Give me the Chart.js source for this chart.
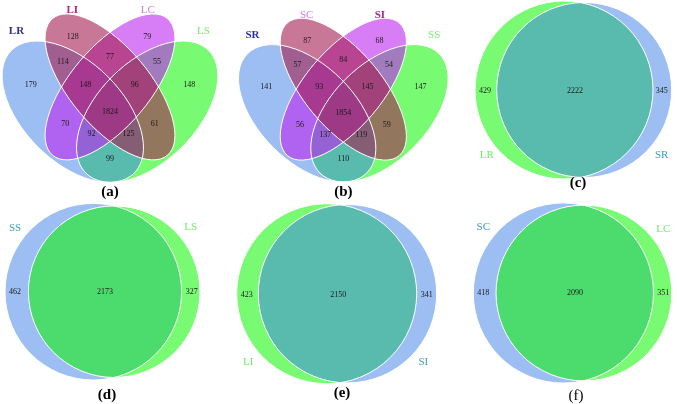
<!DOCTYPE html>
<html>
<head>
<meta charset="utf-8">
<script src="https://cdn.jsdelivr.net/npm/chart.js@4.4.1/dist/chart.umd.min.js"></script>
<style>
  html, body { margin: 0; padding: 0; background: #fff; }
  #wrap { width: 677px; height: 404px; }
</style>
</head>
<body>
<div id="wrap"><canvas id="vennChart" width="677" height="404"></canvas></div>
<script>
// ---- data ----
const quadSetsA = ['LR', 'LI', 'LC', 'LS'];
const quadSetsB = ['SR', 'SC', 'SI', 'SS'];
// 15 region counts, in VennDiagram label order
const quadCountsA = [128, 77, 79, 114, 148, 1824, 96, 55, 179, 70, 92, 125, 61, 148, 99];
const quadCountsB = [87, 84, 68, 57, 93, 1854, 145, 54, 141, 56, 137, 119, 59, 147, 110];
const pairSets = [['LR', 'SR'], ['SS', 'LS'], ['LI', 'SI'], ['SC', 'LC']];
const pairCounts = [[429, 2222, 345], [462, 2173, 327], [423, 2150, 341], [418, 2090, 351]];
const panelTags = ['(a)', '(b)', '(c)', '(d)', '(e)', '(f)'];

// ---- layout ----
// 4-set diagram in unit coords (y up)
const quadRegionPos = [[0.35, 0.77], [0.5, 0.69], [0.65, 0.77], [0.31, 0.67], [0.4, 0.58], [0.5, 0.47],
  [0.6, 0.58], [0.69, 0.67], [0.18, 0.58], [0.32, 0.42], [0.425, 0.38], [0.575, 0.38], [0.68, 0.42],
  [0.82, 0.58], [0.5, 0.28]];
// x, y, a, b, rotation (deg) : left, inner-left, inner-right, right
const quadEllipses = [
  [0.35, 0.47, 0.35, 0.20, 135],
  [0.50, 0.57, 0.36, 0.16, 130],
  [0.50, 0.57, 0.36, 0.16, 50],
  [0.65, 0.47, 0.35, 0.20, 45]
];
const quadNamePos = [[0.123, 0.795], [0.348, 0.878], [0.652, 0.878], [0.877, 0.795]];
const quadFrames = [{ cx: 110, cy: 111.7, s: 248 }, { cx: 343.3, cy: 113.3, s: 241 }];
const BLUE = 'rgba(60,125,232,0.5)';
const GREEN = 'rgba(10,245,0,0.55)';
const quadFills = [BLUE, 'rgba(163,30,80,0.6)', 'rgba(188,38,238,0.6)', GREEN];
const quadNameColors = [
  ['#2e2e9a', '#a3278f', '#d27ae6', '#74ec6c'],
  ['#2e2e9a', '#d27ae6', '#a3278f', '#74ec6c']
];
const quadNameFonts = [
  ['bold 11px "Liberation Serif"', 'bold 11px "Liberation Serif"', '11px "Liberation Serif"', '11px "Liberation Serif"'],
  ['bold 11px "Liberation Serif"', '11px "Liberation Serif"', 'bold 11px "Liberation Serif"', '11px "Liberation Serif"']
];

const pairFrames = [
  { left: [564, 90, 89], right: [584.2, 90, 87.5], fills: [GREEN, BLUE], numX: [485, 575, 661.7], numY: 90.7, names: [[486.7, 155], [661.7, 155]] },
  { left: [93.3, 291.7, 88.3], right: [114.2, 291.7, 85.8], fills: [BLUE, GREEN], numX: [15, 105, 191.7], numY: 291.7, names: [[15, 228.3], [190.7, 227.3]] },
  { left: [326.7, 293.7, 90], right: [347.5, 293.7, 89.2], fills: [GREEN, BLUE], numX: [246.7, 338.3, 426.7], numY: 295, names: [[248.3, 362.3], [423.3, 361.7]] },
  { left: [563.4, 293, 90.1], right: [583.9, 293, 87.9], fills: [BLUE, GREEN], numX: [483.3, 575, 663.3], numY: 293.3, names: [[483.3, 226.7], [663.3, 229.3]] }
];
const tagPos = [[110, 192.3], [343.3, 192.3], [578, 182.7], [107, 395], [342, 392.7], [576, 396]];
const tagFonts = ['bold', 'bold', 'bold', 'bold', 'bold', 'normal'];

function quadPt(f, u, v) {
  return { x: f.cx + (u - 0.5) * f.s, y: f.cy - (v - 0.47) * f.s };
}
function nameColor(fill) { return fill === GREEN ? '#6cee68' : '#3d9db4'; }

// ---- datasets (text marks placed through the scales) ----
const datasets = [];
function textSet(points, texts, colors, fonts) {
  datasets.push({ data: points, texts: texts, colors: colors, fonts: fonts, pointRadius: 0 });
}
const numFont = '8px "Liberation Serif"';
[quadCountsA, quadCountsB].forEach((counts, p) => {
  const f = quadFrames[p];
  textSet(quadRegionPos.map(q => quadPt(f, q[0], q[1])), counts.map(String), counts.map(() => '#1a1a1a'), counts.map(() => numFont));
  const sets = p === 0 ? quadSetsA : quadSetsB;
  textSet(quadNamePos.map(q => quadPt(f, q[0], q[1])), sets, quadNameColors[p], quadNameFonts[p]);
});
pairCounts.forEach((counts, p) => {
  const f = pairFrames[p];
  textSet(f.numX.map(x => ({ x: x, y: f.numY })), counts.map(String), counts.map(() => '#1a1a1a'), counts.map(() => numFont));
  textSet(f.names.map(n => ({ x: n[0], y: n[1] })), pairSets[p], f.fills.map(nameColor), pairSets[p].map(() => '11px "Liberation Serif"'));
});
textSet(tagPos.map(t => ({ x: t[0], y: t[1] })), panelTags, panelTags.map(() => '#000'), tagFonts.map(w => w + ' 15px "Liberation Serif"'));

const vennPlugin = {
  id: 'venn',
  beforeDatasetsDraw(chart) {
    const ctx = chart.ctx;
    const xs = chart.scales.x, ys = chart.scales.y;
    const k = xs.getPixelForValue(1) - xs.getPixelForValue(0);
    ctx.save();
    quadFrames.forEach(f => {
      const paths = quadEllipses.map(e => {
        const c = quadPt(f, e[0], e[1]);
        const path = new Path2D();
        path.ellipse(xs.getPixelForValue(c.x), ys.getPixelForValue(c.y), e[2] * f.s * k, e[3] * f.s * k,
          -e[4] * Math.PI / 180, 0, 2 * Math.PI);
        return path;
      });
      [3, 0, 2, 1].forEach(i => { ctx.fillStyle = quadFills[i]; ctx.fill(paths[i]); });
      ctx.strokeStyle = '#ffffff';
      ctx.lineWidth = 1;
      paths.forEach(p => ctx.stroke(p));
    });
    pairFrames.forEach(f => {
      const paths = [f.left, f.right].map(c => {
        const path = new Path2D();
        path.arc(xs.getPixelForValue(c[0]), ys.getPixelForValue(c[1]), c[2] * k, 0, 2 * Math.PI);
        return path;
      });
      paths.forEach((p, i) => { ctx.fillStyle = f.fills[i]; ctx.fill(p); });
      ctx.strokeStyle = '#ffffff';
      ctx.lineWidth = 1;
      paths.forEach(p => ctx.stroke(p));
    });
    ctx.restore();
  },
  afterDatasetsDraw(chart) {
    const ctx = chart.ctx;
    ctx.save();
    ctx.textAlign = 'center';
    ctx.textBaseline = 'middle';
    chart.data.datasets.forEach((ds, di) => {
      const meta = chart.getDatasetMeta(di);
      meta.data.forEach((el, i) => {
        ctx.font = ds.fonts[i];
        ctx.fillStyle = ds.colors[i];
        ctx.fillText(ds.texts[i], el.x, el.y);
      });
    });
    ctx.restore();
  }
};

new Chart(document.getElementById('vennChart').getContext('2d'), {
  type: 'scatter',
  data: { datasets: datasets },
  options: {
    responsive: false,
    animation: false,
    devicePixelRatio: 1,
    layout: { padding: 0 },
    plugins: { legend: { display: false }, tooltip: { enabled: false } },
    scales: {
      x: { type: 'linear', min: 0, max: 677, display: false },
      y: { type: 'linear', min: 0, max: 404, reverse: true, display: false }
    }
  },
  plugins: [vennPlugin]
});
</script>
</body>
</html>
